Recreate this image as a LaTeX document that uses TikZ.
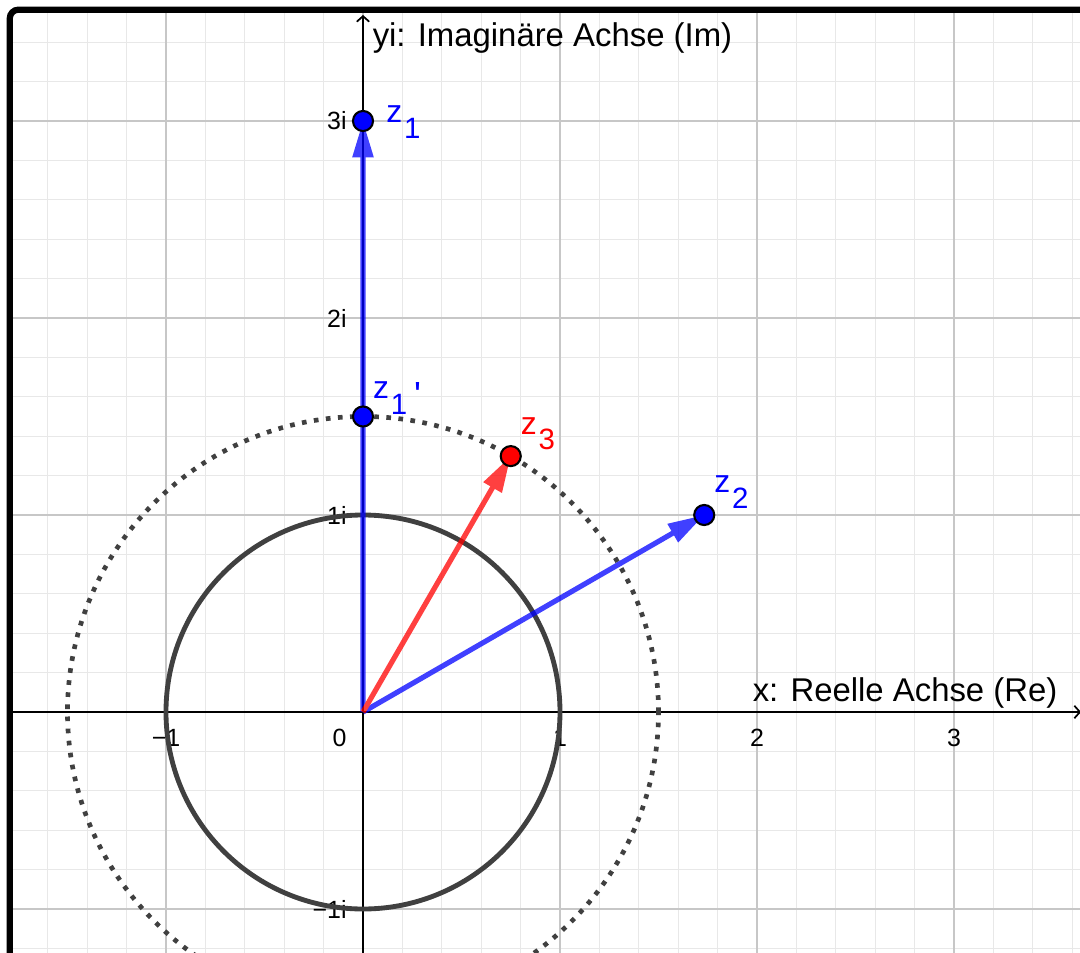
\documentclass[tikz,border=0pt]{standalone}
\usepackage{fontspec}
\setmainfont{Liberation Sans}
\usetikzlibrary{arrows.meta, positioning}

\newcommand{\zname}[2]{z\kern0.5pt\lower4.6pt\hbox{\fontsize{8.5}{9}\selectfont #1}#2}
\newcommand{\zprime}{\kern2pt\raise-2.5pt\hbox{\fontsize{10.5}{11}\selectfont\textquotesingle}}

\begin{document}
\begin{tikzpicture}[
  x=2cm, y=2cm,
  font=\fontsize{9.5}{11}\selectfont,
  minorgrid/.style={draw=black!9, line width=0.35pt},
  majorgrid/.style={draw=black!22, line width=0.55pt},
  axis/.style={line width=0.5pt, -{Straight Barb[length=1.6pt, width=3.6pt]}},
  ticklabel/.style={font=\fontsize{7.2}{8}\selectfont, inner sep=0pt},
  vec/.style={line width=1.5pt, -{Triangle[length=10.5pt, width=5.8pt]}},
  pt/.style={circle, draw=black, line width=0.6pt, minimum size=5.8pt, inner sep=0pt},
  zlabel/.style={anchor=base west, inner sep=0pt, font=\fontsize{9.2}{10}\selectfont},
  unitcircle/.style={draw=black!75, line width=1.4pt},
  dotcircle/.style={draw=black!75, line width=1.35pt, dash pattern=on 1.35pt off 2.15pt}
]
\useasboundingbox (-1.8426,-1.2183) rectangle (3.6396,3.6142);
\begin{scope}
\clip (-1.793,-1.3) rectangle (3.7,3.565);
\draw[minorgrid] (-2,-1.4) grid[step=0.2] (3.8,3.8);
\draw[majorgrid] (-2,-1.4) grid[step=1] (3.8,3.8);
\coordinate (O) at (0,0);
\coordinate (xs) at (-1.8,0);
\coordinate (xe) at (3.645,0);
\coordinate (ys) at (0,-1.3);
\coordinate (ye) at (0,3.538);
\coordinate (z1) at (0,3);
\coordinate (z1p) at (0,1.5);
\coordinate (z2) at (1.732,1);
\coordinate (z3) at (0.75,1.299);
\draw[axis] (xs) -- (xe);
\draw[axis] (ys) -- (ye);
\node[anchor=base west, inner sep=0pt] (relab) at (1.975,0.051) {x: Reelle Achse (Re)};
\node[anchor=base west, inner sep=0pt] (imlab) at (0.046,3.376) {yi: Imaginäre Achse (Im)};
\foreach \x/\t in {-1/−1, 1/1, 2/2, 3/3}
  \node[ticklabel] (tx\x) at (\x,-0.13) {\t};
\node[ticklabel, anchor=east] (t0) at (-0.08,-0.13) {0};
\foreach \y/\t in {-1/−1i, 1/1i, 2/2i, 3/3i}
  \node[ticklabel, anchor=east] (ty\y) at (-0.08,\y) {\t};
\draw[unitcircle] (O) circle[radius=1];
\draw[dotcircle] (O) circle[radius=1.5];
\begin{scope}[transparency group, opacity=0.75]
\draw[vec, blue] (O) -- (z1);
\draw[vec, blue] (O) -- (z2);
\draw[vec, red] (O) -- (z3);
\end{scope}
\node[pt, fill=blue] (p1) at (z1) {};
\node[pt, fill=blue] (p1p) at (z1p) {};
\node[pt, fill=blue] (p2) at (z2) {};
\node[pt, fill=red] (p3) at (z3) {};
\node[zlabel, text=blue] (l1) at ([shift={(0.115,-0.01)}]z1) {\zname{1}{}};
\node[zlabel, text=blue] (l1p) at ([shift={(0.048,0.091)}]z1p) {\zname{1}{\zprime}};
\node[zlabel, text=blue] (l2) at ([shift={(0.048,0.112)}]z2) {\zname{2}{}};
\node[zlabel, text=red] (l3) at ([shift={(0.048,0.112)}]z3) {\zname{3}{}};
\end{scope}
\draw[line width=1.8pt, rounded corners=2.5pt] (-1.793,-1.4) |- (3.8,3.565);
\end{tikzpicture}
\end{document}
